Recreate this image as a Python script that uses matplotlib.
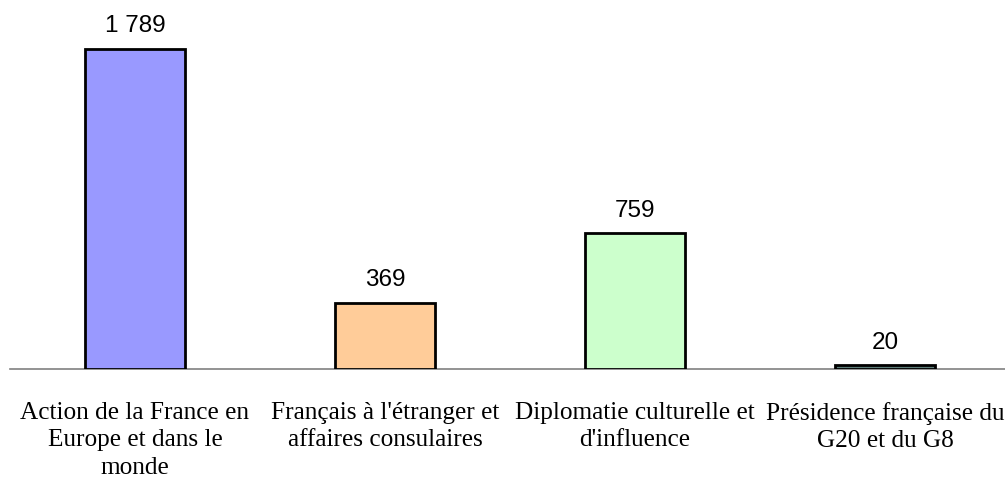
import matplotlib
matplotlib.use('Agg')
import matplotlib.pyplot as plt

categories = ["Action de la France en\nEurope et dans le\nmonde",
              "Français à l'étranger et\naffaires consulaires",
              "Diplomatie culturelle et\nd'influence",
              "Présidence française du\nG20 et du G8"]
values = [1789, 369, 759, 20]
labels = ["1 789", "369", "759", "20"]
colors = ["#9999FF", "#FFCC99", "#CCFFCC", "#5F7F7A"]

W, H = 1005, 481
fig = plt.figure(figsize=(W / 100, H / 100), dpi=100)
ax = fig.add_axes([10 / W, 111 / H, 995 / W, 370 / H])

x = list(range(len(values)))
ax.bar(x, values, width=0.4, color=colors, edgecolor='black', linewidth=2, zorder=3)

for xi, v, lab in zip(x, values, labels):
    ax.annotate(lab, (xi, v), xytext=(0, 17), textcoords='offset points',
                ha='center', va='center', fontsize=17.5, family='Liberation Sans')

ax.set_xlim(-0.5, -0.5 + 995 / 250)
ax.set_ylim(0, 1789 * 370 / 320)

for s in ['top', 'right', 'left']:
    ax.spines[s].set_visible(False)
ax.spines['bottom'].set_color('#808080')
ax.spines['bottom'].set_linewidth(1.2)
ax.set_yticks([])
ax.set_xticks(x)
ax.set_xticklabels(categories, family='Liberation Serif', fontsize=18.2, linespacing=1.32)
ax.tick_params(axis='x', length=0, pad=23)

fig.savefig('out.png', dpi=100)
